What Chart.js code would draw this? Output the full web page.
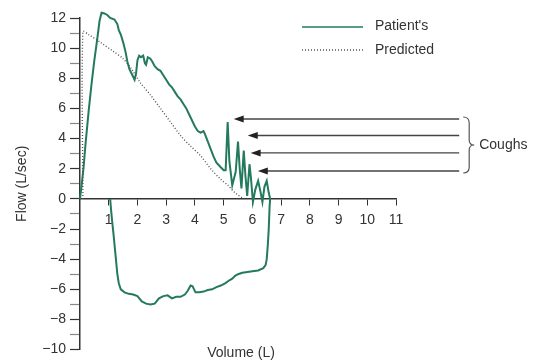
<!DOCTYPE html>
<html>
<head>
<meta charset="utf-8">
<script src="https://cdn.jsdelivr.net/npm/chart.js@4"></script>
<style>
	body { margin: 0; background: #fff; }
	#wrap { width: 539px; height: 362px; }
</style>
</head>
<body>
<div id="wrap"><canvas id="flow-volume-chart" width="539" height="362"></canvas></div>
<script>
// patient's flow-volume loop, expiration then inspiration (volume L, flow L/sec)
const patientVolume = [
	0, 0.05, 0.12, 0.2, 0.3, 0.4, 0.5, 0.6, 0.68, 0.75, 0.85, 0.95, 1.05, 1.2, 1.3, 1.35,
	1.42, 1.5, 1.58, 1.65, 1.72, 1.8, 1.9, 1.95, 2.0, 2.06, 2.12, 2.2, 2.26, 2.3, 2.36,
	2.45, 2.52, 2.6, 2.7, 2.8, 2.9, 3.0, 3.1, 3.2, 3.3, 3.4, 3.5, 3.6, 3.7, 3.8, 3.9,
	4.0, 4.1, 4.2, 4.3, 4.35, 4.45, 4.55, 4.65, 4.75, 4.85, 5.0, 5.07, 5.14, 5.2, 5.3,
	5.42, 5.5, 5.56, 5.62, 5.7, 5.76, 5.82, 5.9, 5.95, 6.02, 6.1, 6.2, 6.28, 6.35, 6.42,
	6.5, 6.57, 6.62,
	6.6, 6.57, 6.54, 6.5, 6.46, 6.38, 6.2, 6.0, 5.83, 5.65, 5.5, 5.4, 5.3, 5.2, 5.05,
	4.9, 4.75, 4.6, 4.45, 4.3, 4.15, 4.02, 3.92, 3.85, 3.75, 3.65, 3.5, 3.35, 3.2, 3.05,
	2.9, 2.75, 2.6, 2.45, 2.3, 2.15, 2.0, 1.85, 1.7, 1.55, 1.42, 1.35, 1.3, 1.26, 1.22,
	1.17, 1.12, 1.08, 1.05
];
const patientFlow = [
	0, 0.8, 2.0, 3.8, 5.8, 7.6, 9.2, 10.6, 11.8, 12.35, 12.3, 12.2, 12.0, 11.9, 11.6, 11.2,
	10.9, 10.4, 9.8, 9.1, 8.6, 8.3, 7.9, 8.3, 9.2, 9.5, 9.4, 9.5, 9.0, 8.9, 9.4,
	9.3, 9.1, 8.8, 8.6, 8.5, 8.2, 7.9, 7.6, 7.4, 7.1, 6.8, 6.6, 6.3, 6.0, 5.6, 5.2,
	4.8, 4.5, 4.4, 4.5, 4.3, 3.8, 3.3, 2.8, 2.4, 2.2, 1.9, 1.9, 5.1, 2.5, 0.9,
	1.8, 3.8, 2.0, 0.7, 3.2, 1.5, 0.2, 2.3, 1.4, -0.2, 0.6, 1.2, 0.5, -0.2, 0.8,
	1.2, 0.4, 0,
	-0.5, -2.0, -3.0, -4.0, -4.4, -4.6, -4.75, -4.8, -4.85, -4.9, -5.0, -5.1, -5.3, -5.4, -5.6,
	-5.75, -5.85, -6.0, -6.05, -6.15, -6.2, -6.2, -5.8, -5.75, -6.1, -6.35, -6.5, -6.5, -6.6, -6.4,
	-6.45, -6.6, -6.95, -7.0, -6.95, -6.8, -6.45, -6.35, -6.3, -6.2, -6.0, -5.6, -5.0, -4.2, -3.4,
	-2.4, -1.5, -0.7, 0
];

// predicted expiratory curve
const predictedVolume = [0.1, 0.1, 0.3, 0.7, 1.15, 1.5, 1.8, 2.1, 2.45, 2.8, 3.15, 3.5, 3.85, 4.2, 4.55, 4.9, 5.15, 5.4, 5.7];
const predictedFlow = [0, 11.1, 10.9, 10.4, 9.8, 9.3, 8.6, 7.7, 6.9, 6.0, 5.1, 4.2, 3.5, 2.85, 2.0, 1.3, 0.9, 0.4, 0];

// cough arrow tips (volume, flow)
const coughVolume = [5.35, 5.84, 5.94, 6.19];
const coughFlow = [5.3, 4.2, 3.05, 1.85];
const arrowTailVolume = 13.2;

const volumeTicks = [1, 2, 3, 4, 5, 6, 7, 8, 9, 10, 11];
const flowTicks = [12, 10, 8, 6, 4, 2, 0, -2, -4, -6, -8, -10];

const FONT = "'Liberation Sans', Arial, sans-serif";
const INK = "#333";
const GREEN = "#237a5c";

const toPoints = (xs, ys) => xs.map((x, i) => ({ x: x, y: ys[i] }));

const annotations = {
	id: "annotations",
	afterDraw(chart) {
		const { ctx, scales } = chart;
		const x = scales.x;
		const y = scales.y;
		ctx.save();

		// legend
		ctx.strokeStyle = GREEN;
		ctx.lineWidth = 1.5;
		ctx.beginPath();
		ctx.moveTo(302, 27);
		ctx.lineTo(363, 27);
		ctx.stroke();
		ctx.strokeStyle = "#555";
		ctx.lineWidth = 1.3;
		ctx.setLineDash([1, 2]);
		ctx.beginPath();
		ctx.moveTo(302, 50);
		ctx.lineTo(363, 50);
		ctx.stroke();
		ctx.setLineDash([]);
		ctx.fillStyle = "#333";
		ctx.font = "14px " + FONT;
		ctx.textBaseline = "middle";
		ctx.textAlign = "left";
		ctx.fillText("Patient's", 375, 26);
		ctx.fillText("Predicted", 375, 50);

		// arrows pointing at the coughs
		const tailX = x.getPixelForValue(arrowTailVolume);
		ctx.strokeStyle = "#444";
		ctx.fillStyle = "#222";
		ctx.lineWidth = 1.4;
		coughVolume.forEach((v, i) => {
			const tipX = x.getPixelForValue(v);
			const tipY = y.getPixelForValue(coughFlow[i]);
			ctx.beginPath();
			ctx.moveTo(tailX, tipY);
			ctx.lineTo(tipX + 8, tipY);
			ctx.stroke();
			ctx.beginPath();
			ctx.moveTo(tipX, tipY);
			ctx.lineTo(tipX + 10, tipY - 3.5);
			ctx.lineTo(tipX + 10, tipY + 3.5);
			ctx.closePath();
			ctx.fill();
		});

		// brace
		const top = y.getPixelForValue(coughFlow[0]) - 2;
		const bottom = y.getPixelForValue(coughFlow[coughFlow.length - 1]) + 2;
		const mid = (top + bottom) / 2;
		const bx = tailX + 4;
		ctx.strokeStyle = "#555";
		ctx.lineWidth = 1.2;
		ctx.beginPath();
		ctx.moveTo(bx, top);
		ctx.quadraticCurveTo(bx + 6, top, bx + 6, top + 6);
		ctx.lineTo(bx + 6, mid - 5);
		ctx.quadraticCurveTo(bx + 6, mid, bx + 11, mid);
		ctx.quadraticCurveTo(bx + 6, mid, bx + 6, mid + 5);
		ctx.lineTo(bx + 6, bottom - 6);
		ctx.quadraticCurveTo(bx + 6, bottom, bx, bottom);
		ctx.stroke();
		ctx.fillStyle = "#333";
		ctx.fillText("Coughs", bx + 16, mid);

		// x axis title at the bottom
		ctx.textAlign = "center";
		ctx.font = "14px " + FONT;
		ctx.fillText("Volume (L)", 241, 353);
		ctx.restore();
	},
};

const ctx = document.getElementById("flow-volume-chart");

new Chart(ctx, {
	type: "scatter",
	data: {
		datasets: [
			{
				label: "Predicted",
				data: toPoints(predictedVolume, predictedFlow),
				showLine: true,
				borderColor: "#555",
				borderWidth: 1.4,
				borderDash: [1, 2],
				pointRadius: 0,
				tension: 0.3,
				clip: false,
			},
			{
				label: "Patient's",
				data: toPoints(patientVolume, patientFlow),
				showLine: true,
				borderColor: GREEN,
				borderWidth: 2,
				pointRadius: 0,
				tension: 0,
				clip: false,
			},
		],
	},
	options: {
		responsive: false,
		animation: false,
		events: [],
		layout: {
			padding: { left: 0, right: 143, top: 18, bottom: 12 },
		},
		plugins: {
			legend: { display: false },
			tooltip: { enabled: false },
		},
		scales: {
			x: {
				type: "linear",
				min: 0,
				max: 11,
				position: { y: 0 },
				afterBuildTicks: (scale) => {
					scale.ticks = volumeTicks.map((v) => ({ value: v }));
				},
				grid: {
					drawOnChartArea: false,
					drawTicks: true,
					tickLength: 6,
					tickColor: INK,
				},
				border: { display: true, color: INK, width: 1.5 },
				ticks: {
					color: "#333",
					font: { family: FONT, size: 14 },
					padding: 7,
					maxRotation: 0,
					autoSkip: false,
				},
			},
			y: {
				type: "linear",
				min: -10,
				max: 12,
				afterFit: (scale) => {
					scale.width = 80;
				},
				afterBuildTicks: (scale) => {
					const ticks = [];
					for (let v = 12; v >= -10; v--) ticks.push({ value: v });
					scale.ticks = ticks;
				},
				grid: {
					drawOnChartArea: false,
					tickLength: 10,
					tickColor: (c) => (flowTicks.includes(c.tick.value) ? INK : "#888"),
					tickWidth: 1.2,
				},
				border: { display: true, color: INK, width: 1.5 },
				ticks: {
					color: "#333",
					font: { family: FONT, size: 14 },
					padding: 4,
					autoSkip: false,
					callback: (v) =>
						flowTicks.includes(v) ? (v < 0 ? "\u2212" + Math.abs(v) : String(v)) : "",
				},
				title: {
					display: true,
					text: "Flow (L/sec)",
					color: "#333",
					font: { family: FONT, size: 14 },
					padding: { top: 14, bottom: 0 },
				},
			},
		},
	},
	plugins: [annotations],
});
</script>
</body>
</html>
